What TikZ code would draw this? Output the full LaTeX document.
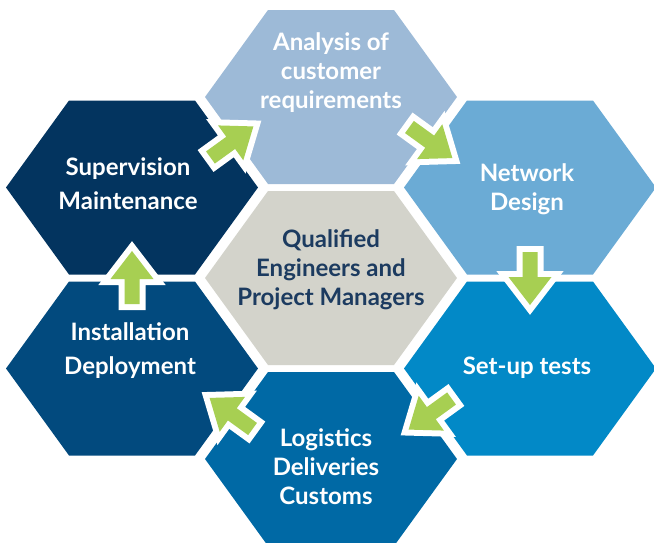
\documentclass[tikz,border=0pt]{standalone}
\usepackage{fontspec}
\setmainfont{Lato}
\usetikzlibrary{calc}
\definecolor{cT}{HTML}{9DBAD7}
\definecolor{cUR}{HTML}{6BABD5}
\definecolor{cLR}{HTML}{0289C7}
\definecolor{cB}{HTML}{0069A5}
\definecolor{cLL}{HTML}{024A7E}
\definecolor{cUL}{HTML}{03345F}
\definecolor{cC}{HTML}{D3D3CB}
\definecolor{cTxt}{HTML}{1C3B60}
\definecolor{cArr}{HTML}{A7CF52}
\tikzset{
  hexfill/.style={fill=#1},
  lbl/.style={text=white, align=center, inner sep=0pt, font=\bfseries\fontsize{24}{29}\selectfont},
  lblwide/.style={lbl, font=\bfseries\fontsize{24}{34}\selectfont},
}
\newcommand\hexat[2]{\fill[hexfill=#2, shift={(#1)}] (-126,0) -- (-63,87) -- (63,87) -- (126,0) -- (63,-87) -- (-63,-87) -- cycle;}
\newcommand\flowarrow[3]{%
  \begin{scope}[shift={($(#1)!0.5!(#2)$)}, rotate=#3]
    \filldraw[white, line width=12pt, line join=miter] (-26,-7.5) -- (-1,-7.5) -- (-1,-21.5) -- (27,0) -- (-1,21.5) -- (-1,7.5) -- (-26,7.5) -- cycle;
    \fill[cArr] (-26,-7.5) -- (-1,-7.5) -- (-1,-21.5) -- (27,0) -- (-1,21.5) -- (-1,7.5) -- (-26,7.5) -- cycle;
  \end{scope}}
\begin{document}
\begin{tikzpicture}[x=1pt, y=-1pt]
  \useasboundingbox (0,0) rectangle (654,542);
  \clip (0,0) rectangle (654,542);
  \coordinate (C) at (331,278);
  \coordinate (T) at (331,97);
  \coordinate (UL) at (132,187.5);
  \coordinate (UR) at (530,187.5);
  \coordinate (LL) at (132,368.5);
  \coordinate (LR) at (530,368.5);
  \coordinate (B) at (331,459);
  \hexat{C}{cC}
  \hexat{T}{cT}
  \hexat{UL}{cUL}
  \hexat{UR}{cUR}
  \hexat{LL}{cLL}
  \hexat{LR}{cLR}
  \hexat{B}{cB}
  \node[lbl, text=cTxt] (tC) at (331,270) {Qualified\\Engineers and\\Project Managers};
  \node[lbl] (tT) at (331,73) {Analysis of\\customer\\requirements};
  \node[lbl] (tUR) at (527,189.5) {Network\\Design};
  \node[lbl] (tLR) at (527,368) {Set-up tests};
  \node[lbl] (tB) at (326,467) {Logistics\\Deliveries\\Customs};
  \node[lblwide] (tLL) at (130,351) {Installation\\Deployment};
  \node[lblwide] (tUL) at (128,183.5) {Supervision\\Maintenance};
  \flowarrow{UL}{T}{35.9}
  \flowarrow{T}{UR}{-35.9}
  \flowarrow{UR}{LR}{-90}
  \flowarrow{LR}{B}{-144.1}
  \flowarrow{B}{LL}{144.1}
  \flowarrow{LL}{UL}{90}
\end{tikzpicture}
\end{document}
